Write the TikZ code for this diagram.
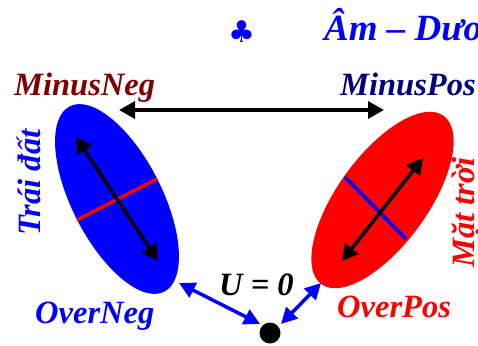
\documentclass[tikz,border=0pt]{standalone}
\usepackage{fontspec}
\setmainfont{Liberation Serif}
\newfontfamily\symfont{DejaVu Sans}
\usetikzlibrary{arrows.meta,shapes.geometric}
\definecolor{dkred}{RGB}{128,0,0}
\definecolor{dkblue}{RGB}{0,0,128}
\tikzset{
  x=1pt,y=-1pt,
  lab/.style={font=\fontsize{32.5}{36}\selectfont\bfseries\itshape,inner sep=0pt,anchor=base west},
  blob/.style={shape=ellipse,inner sep=0pt,minimum width=208pt,minimum height=90pt},
  blackarrow/.style={line width=3.5pt,black,{Triangle[length=16pt,width=17pt]}-{Triangle[length=16pt,width=17pt]}},
  bluearrow/.style={line width=3.5pt,blue,{Triangle[length=16pt,width=16pt]}-{Triangle[length=16pt,width=16pt]}},
  axisline/.style={line width=3.5pt}
}
\begin{document}
\begin{tikzpicture}
\useasboundingbox (0,0) rectangle (478,345);
\clip (0,0) rectangle (478,345);
\node[blob,fill=blue,rotate=-63] (neg) at (117,199) {};
\node[blob,fill=red,rotate=54] (pos) at (382.5,200) {};
\coordinate (negA) at (77,220);
\coordinate (negB) at (157,179);
\coordinate (posA) at (345,177);
\coordinate (posB) at (406,239);
\draw[axisline,red] (negA) -- (negB);
\draw[axisline,blue] (posA) -- (posB);
\coordinate (negT) at (76,137);
\coordinate (negD) at (158,261);
\coordinate (posT) at (423,158);
\coordinate (posD) at (342,261);
\coordinate (topL) at (119,110);
\coordinate (topR) at (384,110);
\draw[blackarrow] (negT) -- (negD);
\draw[blackarrow] (posT) -- (posD);
\draw[blackarrow] (topL) -- (topR);
\node[circle,fill=black,inner sep=0pt,minimum size=21pt] (dot) at (270,333) {};
\coordinate (negE) at (179,283);
\coordinate (posE) at (321,283);
\coordinate (dotL) at (260,324);
\coordinate (dotR) at (281,324);
\draw[bluearrow] (negE) -- (dotL);
\draw[bluearrow] (posE) -- (dotR);
\node[text=blue,inner sep=0pt,font=\symfont\fontsize{30}{30}\selectfont] (club) at (242,32) {♣};
\node[lab,text=blue,font=\fontsize{37}{40}\selectfont\bfseries\itshape] (title) at (324,41) {Âm – Dương};
\node[lab,text=dkred] (mneg) at (14,95) {MinusNeg};
\node[lab,text=dkblue] (mpos) at (340,95) {MinusPos};
\node[lab,text=blue] (oneg) at (35,323) {OverNeg};
\node[lab,text=red] (opos) at (337,317) {OverPos};
\node[lab] (u) at (219,295) {U = 0};
\node[lab,text=blue,rotate=90] (earth) at (40,236) {Trái đất};
\node[lab,text=red,rotate=90] (sun) at (474,268) {Mặt trời};
\end{tikzpicture}
\end{document}
